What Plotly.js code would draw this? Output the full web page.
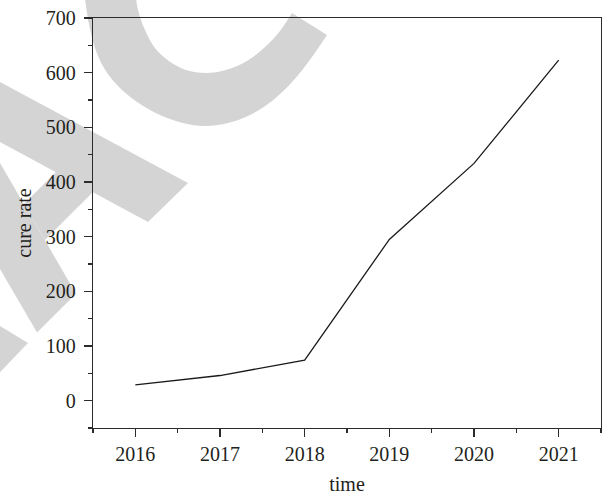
<!DOCTYPE html>
<html>
<head>
<meta charset="utf-8">
<script src="https://cdn.plot.ly/plotly-3.0.1.min.js"></script>
<style>
  html, body { margin: 0; padding: 0; background: #fff; }
  #chart { width: 603px; height: 496px; }
</style>
</head>
<body>
<div id="chart"></div>
<script>
// Yearly cure rate series
const years = [2016, 2017, 2018, 2019, 2020, 2021];
const cureRate = [29, 46, 74, 295, 434, 623];
const yearTicks = [2016, 2017, 2018, 2019, 2020, 2021];
const rateTicks = [0, 100, 200, 300, 400, 500, 600, 700];

const W = 603, H = 496;
const M = { l: 93, r: 2, t: 18, b: 68 };
const plotW = W - M.l - M.r, plotH = H - M.t - M.b;

// Background stamp letters, given in page pixels and converted to paper units
function toPaper(p) {
  return ((p[0] - M.l) / plotW).toFixed(4) + ',' + ((H - M.b - p[1]) / plotH).toFixed(4);
}
function polyPath(pts) {
  return pts.map((p, i) => (i ? 'L' : 'M') + toPaper(p)).join(' ') + ' Z';
}
// Smooth open curve through points (Catmull-Rom as cubic Beziers)
function smoothSeg(pts) {
  let d = '';
  for (let i = 0; i < pts.length - 1; i++) {
    const p0 = pts[Math.max(i - 1, 0)], p1 = pts[i], p2 = pts[i + 1], p3 = pts[Math.min(i + 2, pts.length - 1)];
    const c1 = [p1[0] + (p2[0] - p0[0]) / 6, p1[1] + (p2[1] - p0[1]) / 6];
    const c2 = [p2[0] - (p3[0] - p1[0]) / 6, p2[1] - (p3[1] - p1[1]) / 6];
    d += ' C' + toPaper(c1) + ' ' + toPaper(c2) + ' ' + toPaper(p2);
  }
  return d;
}
const arcOuter = [[82,-10],[85,0],[89,24],[95,48],[104,68],[118,86],[137,102],[160,115],[183,123],[205,126],
                  [228,123],[250,115],[272,101],[293,81],[312,57],[327,35]];
const arcInner = [[292,13],[280,31],[265,47],[247,61],[226,70],[206,73],[186,70],[169,61],[155,48],
                  [145,30],[138,10],[135,-10]];
const arcPath = 'M' + toPaper(arcOuter[0]) + smoothSeg(arcOuter) +
                ' L' + toPaper(arcInner[0]) + smoothSeg(arcInner) + ' Z';

const stampPolys = [
  // "A" first leg
  [[-40,60.5],[188,183],[148,222],[-40,120.5]],
  // "A" second leg
  [[-40,94.2],[76,293.7],[37,332.6],[-40,200.2]],
  // "A" crossbar
  [[23.9,204.1],[56,172],[93,192],[44.9,240.1]],
  // tip of the preceding letter
  [[-20,314],[28,343],[-20,393]]
];
const stampStyle = { type: 'path', xref: 'paper', yref: 'paper', layer: 'below',
                     fillcolor: '#d4d4d4', line: { width: 0 } };
const shapes = [Object.assign({ path: arcPath }, stampStyle)]
  .concat(stampPolys.map(pts => Object.assign({ path: polyPath(pts) }, stampStyle)));

const font = { family: 'Liberation Serif, Times New Roman, serif', size: 20, color: '#231f20' };
const axisCol = '#2b2b2b';

const trace = {
  x: years, y: cureRate, type: 'scatter', mode: 'lines',
  line: { color: '#1a1a1a', width: 1.3 }, hoverinfo: 'skip'
};

const layout = {
  width: W, height: H, margin: M,
  paper_bgcolor: '#ffffff', plot_bgcolor: 'rgba(0,0,0,0)',
  showlegend: false, font: font, shapes: shapes,
  xaxis: {
    range: [2015.5, 2021.5], tickvals: yearTicks, ticktext: yearTicks.map(String),
    ticks: 'outside', ticklen: 8, tickwidth: 1.2, tickcolor: axisCol,
    minor: { ticks: 'outside', ticklen: 4, tickwidth: 1.2, tickcolor: axisCol, dtick: 0.5, tick0: 2015.5 },
    showline: true, linecolor: axisCol, linewidth: 1.2, mirror: true,
    showgrid: false, zeroline: false, tickfont: font,
    title: { text: 'time', font: font, standoff: 12 }
  },
  yaxis: {
    range: [-50, 700], tickvals: rateTicks, ticktext: rateTicks.map(String),
    ticks: 'outside', ticklen: 8, tickwidth: 1.2, tickcolor: axisCol, ticklabelstandoff: 4,
    minor: { ticks: 'outside', ticklen: 4, tickwidth: 1.2, tickcolor: axisCol, dtick: 50, tick0: -50 },
    showline: true, linecolor: axisCol, linewidth: 1.2, mirror: true,
    showgrid: false, zeroline: false, tickfont: font,
    title: { text: 'cure rate', font: font, standoff: 8 }
  }
};

Plotly.newPlot('chart', [trace], layout, { staticPlot: true, displayModeBar: false });
</script>
</body>
</html>
